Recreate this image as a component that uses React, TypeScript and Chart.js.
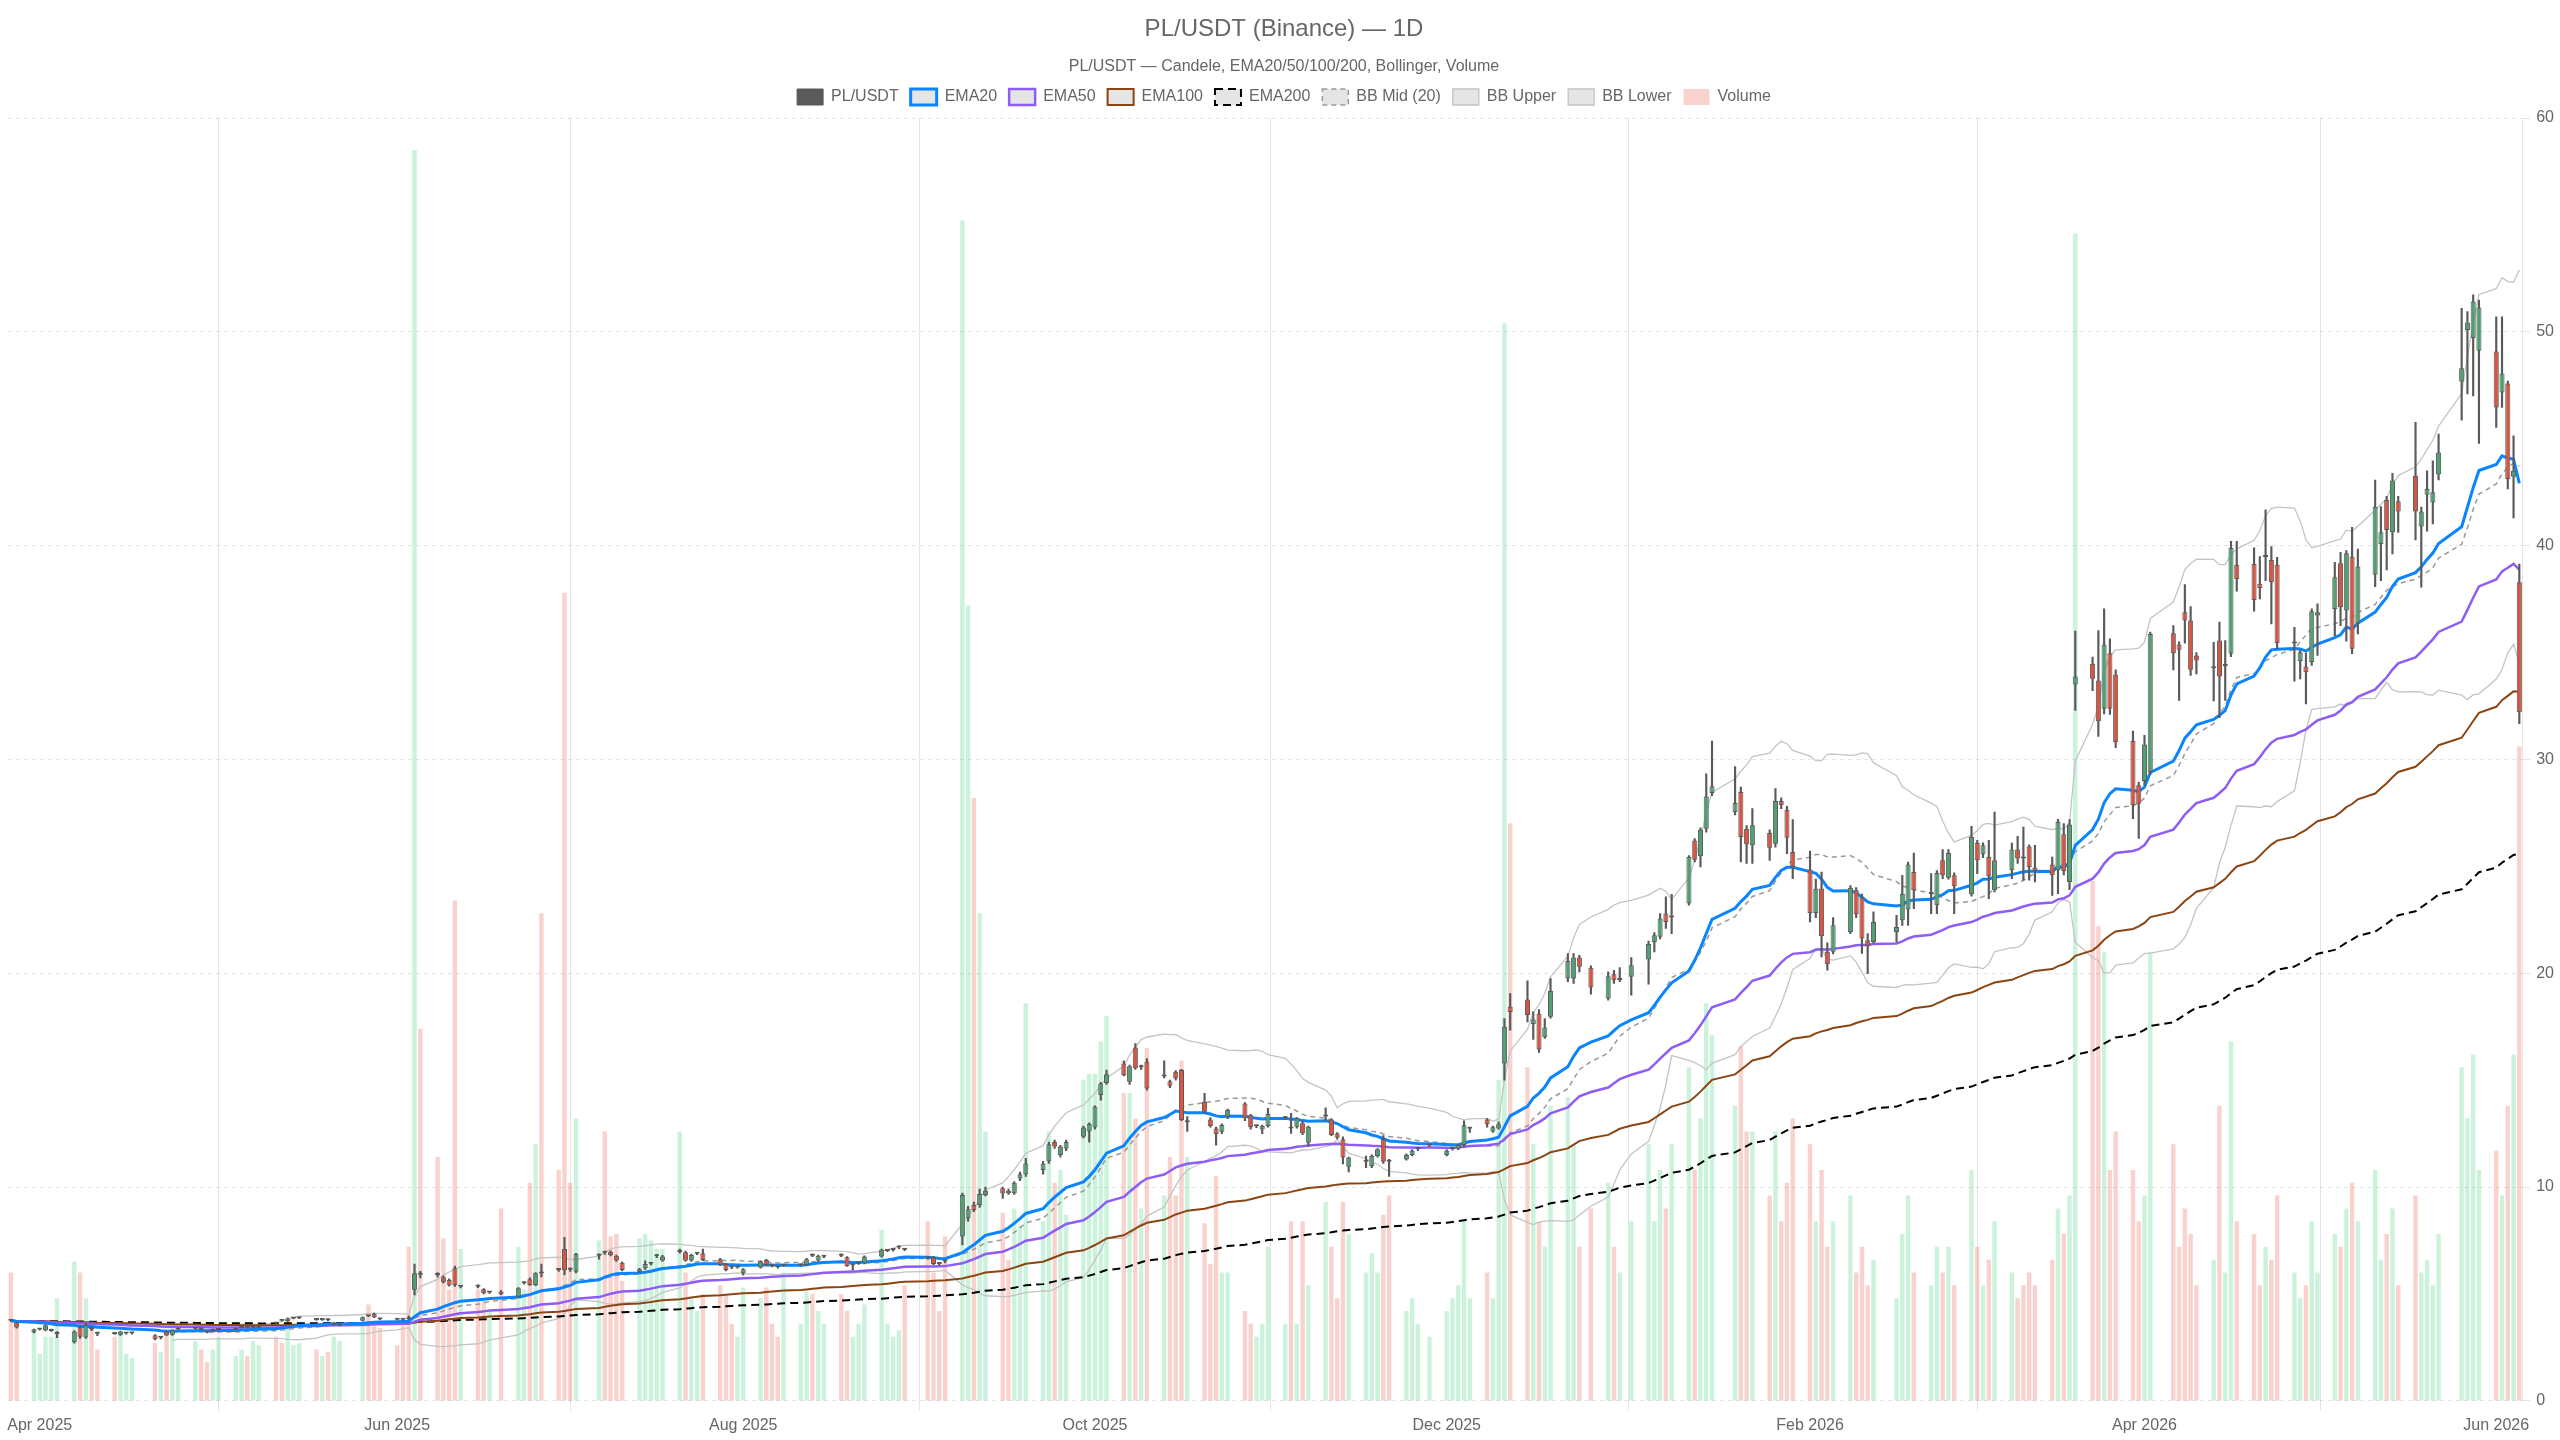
import React, { useEffect, useRef } from 'react';
import { Chart, registerables } from 'chart.js';

Chart.register(...registerables);

// Each row: [day of month, open, high, low, close, volume (M)]
type Row = [number, number, number, number, number, number];

const MAR_2025: Row[] = [
  [27, 3.77, 3.79, 3.72, 3.74, 6.0],
  [28, 3.66, 3.68, 3.40, 3.43, 3.6],
  [31, 3.21, 3.36, 3.18, 3.35, 3.3],
];

const APR_2025: Row[] = [
  [1, 3.33, 3.38, 3.30, 3.35, 2.2],
  [2, 3.30, 3.57, 3.27, 3.53, 3.0],
  [3, 3.27, 3.35, 3.25, 3.30, 3.0],
  [4, 3.12, 3.24, 2.95, 3.17, 4.8],
  [7, 2.74, 3.28, 2.70, 3.24, 6.5],
  [8, 3.44, 3.50, 2.92, 3.00, 6.0],
  [9, 2.96, 3.62, 2.92, 3.55, 4.8],
  [10, 3.36, 3.45, 3.28, 3.33, 3.6],
  [11, 3.17, 3.22, 3.05, 3.14, 2.4],
  [14, 3.16, 3.19, 3.10, 3.13, 3.0],
  [15, 3.09, 3.26, 3.06, 3.24, 3.2],
  [16, 3.15, 3.19, 3.12, 3.17, 2.2],
  [17, 3.16, 3.20, 3.12, 3.17, 2.0],
  [21, 3.07, 3.10, 2.85, 2.88, 2.7],
  [22, 2.95, 3.00, 2.90, 2.96, 2.3],
  [23, 3.24, 3.26, 3.03, 3.05, 3.0],
  [24, 3.09, 3.32, 3.06, 3.30, 3.3],
  [25, 3.34, 3.38, 3.31, 3.36, 2.0],
  [28, 3.37, 3.41, 3.34, 3.39, 2.8],
  [29, 3.39, 3.41, 3.30, 3.33, 2.4],
  [30, 3.26, 3.28, 3.18, 3.23, 1.8],
];

const MAY_2025: Row[] = [
  [1, 3.28, 3.32, 3.25, 3.30, 2.4],
  [2, 3.31, 3.35, 3.28, 3.33, 3.0],
  [5, 3.33, 3.37, 3.31, 3.35, 2.1],
  [6, 3.42, 3.46, 3.40, 3.44, 2.4],
  [7, 3.44, 3.47, 3.41, 3.43, 2.1],
  [8, 3.43, 3.47, 3.41, 3.45, 2.8],
  [9, 3.43, 3.48, 3.42, 3.44, 2.6],
  [12, 3.64, 3.66, 3.57, 3.61, 3.0],
  [13, 3.76, 3.78, 3.72, 3.74, 2.7],
  [14, 3.72, 3.88, 3.70, 3.85, 3.4],
  [15, 3.85, 3.88, 3.83, 3.86, 2.6],
  [16, 3.86, 3.90, 3.84, 3.88, 2.7],
  [19, 3.80, 3.83, 3.76, 3.78, 2.4],
  [20, 3.78, 3.82, 3.76, 3.80, 2.1],
  [21, 3.80, 3.84, 3.74, 3.77, 2.3],
  [22, 3.56, 3.66, 3.54, 3.64, 3.0],
  [23, 3.52, 3.60, 3.50, 3.58, 2.8],
  [27, 3.74, 3.93, 3.72, 3.91, 3.6],
  [28, 3.98, 3.99, 3.93, 3.95, 4.5],
  [29, 4.07, 4.10, 3.89, 3.91, 3.7],
  [30, 3.83, 3.86, 3.79, 3.81, 3.4],
];

const JUN_2025: Row[] = [
  [2, 3.80, 3.83, 3.77, 3.79, 2.6],
  [3, 3.81, 3.84, 3.77, 3.79, 3.6],
  [4, 3.85, 3.97, 3.80, 3.82, 7.2],
  [5, 5.19, 6.40, 4.95, 5.97, 58.5],
  [6, 5.91, 6.05, 5.75, 5.89, 17.4],
  [9, 5.90, 6.00, 5.80, 5.88, 11.4],
  [10, 5.78, 5.85, 5.50, 5.55, 7.6],
  [11, 5.65, 5.70, 5.36, 5.39, 5.2],
  [12, 6.20, 6.30, 5.35, 5.42, 23.4],
  [13, 5.33, 5.40, 5.28, 5.35, 7.1],
  [16, 5.36, 5.42, 5.28, 5.34, 5.2],
  [17, 5.22, 5.25, 5.00, 5.03, 4.8],
  [18, 5.07, 5.12, 5.02, 5.09, 4.2],
  [20, 5.11, 5.15, 4.96, 4.98, 9.0],
  [23, 4.87, 5.30, 4.82, 5.27, 7.2],
  [24, 5.50, 5.58, 5.46, 5.55, 5.2],
  [25, 5.69, 5.75, 5.40, 5.42, 10.2],
  [26, 5.42, 6.00, 5.38, 5.97, 12.0],
  [27, 5.97, 6.40, 5.80, 5.95, 22.8],
  [30, 6.14, 6.20, 6.05, 6.12, 10.8],
];

const JUL_2025: Row[] = [
  [1, 7.10, 7.65, 5.89, 6.12, 37.8],
  [2, 6.15, 6.22, 6.05, 6.13, 10.2],
  [3, 6.04, 6.90, 5.98, 6.87, 13.2],
  [7, 6.78, 6.88, 6.62, 6.80, 7.5],
  [8, 6.95, 7.00, 6.85, 6.93, 12.6],
  [9, 6.97, 7.02, 6.78, 6.81, 7.7],
  [10, 6.78, 6.82, 6.52, 6.56, 7.8],
  [11, 6.46, 6.50, 6.08, 6.12, 5.6],
  [14, 6.04, 6.20, 6.00, 6.15, 7.6],
  [15, 6.20, 6.55, 6.15, 6.40, 7.8],
  [16, 6.41, 6.48, 6.36, 6.43, 7.5],
  [17, 6.76, 6.85, 6.70, 6.78, 7.1],
  [18, 6.56, 6.80, 6.52, 6.75, 7.1],
  [21, 6.96, 7.10, 6.90, 6.98, 12.6],
  [22, 6.95, 7.00, 6.52, 6.56, 6.0],
  [23, 6.56, 6.86, 6.52, 6.82, 4.8],
  [24, 6.88, 6.95, 6.84, 6.90, 4.2],
  [25, 6.90, 7.10, 6.55, 6.59, 5.0],
  [28, 6.62, 6.66, 6.32, 6.35, 5.4],
  [29, 6.40, 6.43, 6.08, 6.12, 5.0],
  [30, 6.25, 6.30, 6.18, 6.24, 3.6],
  [31, 6.23, 6.30, 6.20, 6.25, 3.0],
];

const AUG_2025: Row[] = [
  [1, 5.97, 6.18, 5.88, 6.15, 5.3],
  [4, 6.24, 6.55, 6.20, 6.51, 4.8],
  [5, 6.59, 6.62, 6.32, 6.35, 5.3],
  [6, 6.32, 6.36, 6.26, 6.31, 3.6],
  [7, 6.26, 6.30, 6.20, 6.25, 3.0],
  [8, 6.33, 6.38, 6.30, 6.35, 6.0],
  [11, 6.34, 6.40, 6.30, 6.35, 3.6],
  [12, 6.35, 6.66, 6.33, 6.62, 5.1],
  [13, 6.80, 6.88, 6.74, 6.78, 5.0],
  [14, 6.56, 6.82, 6.52, 6.78, 4.2],
  [15, 6.74, 6.80, 6.70, 6.75, 3.6],
  [18, 6.80, 6.88, 6.74, 6.78, 5.0],
  [19, 6.72, 6.75, 6.28, 6.31, 4.2],
  [20, 6.34, 6.38, 6.12, 6.35, 3.0],
  [21, 6.42, 6.46, 6.38, 6.43, 3.6],
  [22, 6.43, 6.78, 6.40, 6.75, 4.5],
  [25, 6.75, 7.10, 6.72, 7.06, 8.0],
  [26, 7.01, 7.06, 6.97, 7.02, 3.6],
  [27, 7.05, 7.10, 7.00, 7.06, 3.0],
  [28, 7.17, 7.25, 7.12, 7.18, 3.3],
  [29, 7.08, 7.12, 7.02, 7.06, 5.4],
];

const SEP_2025: Row[] = [
  [2, 6.69, 6.74, 6.62, 6.67, 8.4],
  [3, 6.72, 6.76, 6.36, 6.40, 6.0],
  [4, 6.41, 6.45, 6.36, 6.40, 4.2],
  [5, 6.52, 6.56, 6.45, 6.51, 7.7],
  [8, 7.68, 9.72, 7.29, 9.63, 55.2],
  [9, 8.54, 9.10, 8.40, 8.96, 37.2],
  [10, 9.16, 9.30, 8.85, 8.93, 28.2],
  [11, 9.16, 9.90, 9.05, 9.67, 22.8],
  [12, 9.63, 10.00, 9.58, 9.82, 12.6],
  [15, 9.94, 10.00, 9.47, 9.70, 8.8],
  [16, 9.83, 9.90, 9.65, 9.71, 6.6],
  [17, 9.71, 10.25, 9.65, 10.20, 9.0],
  [18, 10.40, 10.70, 10.30, 10.60, 8.2],
  [19, 10.60, 11.34, 10.50, 11.10, 18.6],
  [22, 10.80, 11.20, 10.60, 11.10, 8.4],
  [23, 11.20, 12.10, 11.10, 12.00, 12.6],
  [24, 12.10, 12.20, 11.80, 11.90, 10.2],
  [25, 11.50, 11.95, 11.40, 11.90, 10.8],
  [26, 11.80, 12.20, 11.70, 12.10, 8.7],
  [29, 12.35, 12.85, 12.30, 12.78, 15.0],
  [30, 12.60, 13.00, 12.10, 12.95, 15.3],
];

const OCT_2025: Row[] = [
  [1, 12.78, 13.80, 12.70, 13.76, 15.3],
  [2, 14.30, 14.90, 14.06, 14.84, 16.8],
  [3, 14.87, 15.47, 14.80, 15.27, 18.0],
  [6, 15.78, 15.90, 15.20, 15.23, 14.4],
  [7, 14.92, 15.70, 14.80, 15.65, 14.4],
  [8, 16.53, 16.71, 15.50, 15.55, 13.2],
  [9, 15.60, 15.70, 15.50, 15.62, 9.0],
  [10, 15.86, 16.01, 14.53, 14.61, 16.5],
  [13, 15.17, 15.90, 15.10, 15.20, 9.6],
  [14, 14.95, 15.00, 14.65, 14.73, 11.4],
  [15, 15.39, 15.45, 15.00, 15.08, 9.6],
  [16, 15.47, 15.50, 13.10, 13.13, 15.9],
  [17, 13.03, 13.29, 12.60, 13.07, 11.4],
  [20, 13.99, 14.38, 13.45, 13.52, 8.3],
  [21, 13.16, 13.25, 12.80, 12.85, 6.4],
  [22, 12.74, 12.80, 11.96, 12.48, 10.5],
  [23, 12.58, 12.95, 12.50, 12.90, 6.0],
  [24, 13.29, 13.65, 13.20, 13.60, 6.0],
  [27, 13.91, 13.95, 13.10, 13.21, 4.2],
  [28, 13.36, 13.40, 12.70, 12.79, 3.6],
  [29, 12.84, 12.90, 12.78, 12.85, 3.0],
  [30, 12.69, 12.90, 12.50, 12.85, 3.6],
  [31, 12.85, 13.68, 12.80, 13.41, 7.2],
];

const NOV_2025: Row[] = [
  [3, 13.22, 13.30, 13.15, 13.25, 3.6],
  [4, 12.76, 13.44, 12.51, 12.74, 8.4],
  [5, 12.82, 13.25, 12.75, 13.21, 3.6],
  [6, 12.98, 13.10, 12.45, 12.51, 8.4],
  [7, 12.07, 12.85, 11.90, 12.82, 5.4],
  [10, 13.30, 13.70, 13.10, 13.32, 9.3],
  [11, 13.16, 13.20, 12.40, 12.43, 7.2],
  [12, 12.50, 12.55, 12.25, 12.30, 4.8],
  [13, 12.23, 12.35, 11.08, 11.38, 9.3],
  [14, 10.95, 11.40, 10.70, 11.38, 7.8],
  [17, 11.18, 11.45, 10.90, 11.20, 6.0],
  [18, 10.98, 11.50, 10.90, 11.45, 6.9],
  [19, 11.45, 11.80, 11.40, 11.76, 6.0],
  [20, 12.23, 12.40, 11.10, 11.18, 8.7],
  [21, 11.22, 11.30, 10.49, 11.18, 9.6],
  [24, 11.29, 11.55, 11.25, 11.50, 4.2],
  [25, 11.50, 11.75, 11.45, 11.70, 4.8],
  [26, 11.78, 11.85, 11.70, 11.80, 3.6],
  [28, 11.94, 12.00, 11.90, 11.96, 3.0],
];

const DEC_2025: Row[] = [
  [1, 11.50, 11.75, 11.45, 11.70, 4.2],
  [2, 11.78, 11.85, 11.72, 11.80, 4.8],
  [3, 11.80, 12.00, 11.75, 11.96, 5.4],
  [4, 11.96, 13.10, 11.88, 12.89, 8.4],
  [5, 12.72, 12.80, 12.55, 12.74, 4.8],
  [8, 13.16, 13.20, 12.80, 12.94, 6.0],
  [9, 12.60, 12.85, 12.55, 12.80, 4.8],
  [10, 12.74, 13.05, 12.70, 12.94, 15.0],
  [11, 15.78, 17.88, 15.00, 17.49, 50.4],
  [12, 18.43, 19.05, 17.34, 18.19, 27.0],
  [15, 18.77, 19.64, 17.72, 18.04, 15.6],
  [16, 17.62, 18.19, 16.90, 17.84, 12.0],
  [17, 18.12, 18.30, 16.30, 16.43, 8.4],
  [18, 17.00, 17.88, 16.95, 17.46, 7.2],
  [19, 17.96, 19.75, 17.90, 19.17, 13.8],
  [22, 19.75, 20.92, 19.60, 20.57, 14.2],
  [23, 19.75, 20.92, 19.52, 20.73, 12.0],
  [24, 20.73, 20.84, 20.06, 20.30, 7.2],
  [26, 20.26, 20.35, 19.02, 19.33, 9.0],
  [29, 18.82, 20.06, 18.74, 19.86, 10.2],
  [30, 19.95, 20.14, 19.52, 19.67, 7.2],
  [31, 19.68, 20.26, 19.60, 19.72, 6.0],
];

const JAN_2026: Row[] = [
  [2, 19.83, 20.73, 18.97, 20.37, 8.4],
  [5, 20.64, 21.50, 19.49, 21.36, 12.0],
  [6, 21.46, 21.90, 21.00, 21.78, 8.4],
  [7, 21.70, 22.79, 21.60, 22.56, 10.8],
  [8, 22.79, 23.57, 22.09, 22.40, 9.0],
  [9, 22.60, 23.69, 21.85, 22.66, 12.0],
  [12, 23.26, 25.50, 23.18, 25.43, 15.6],
  [13, 26.21, 26.30, 25.20, 25.31, 10.8],
  [14, 25.47, 26.80, 24.97, 26.71, 13.2],
  [15, 26.76, 29.33, 26.60, 28.27, 18.6],
  [16, 28.43, 30.86, 28.30, 28.74, 17.1],
  [20, 27.54, 29.67, 27.40, 27.96, 13.8],
  [21, 28.47, 28.70, 25.20, 26.37, 16.6],
  [22, 26.76, 26.90, 25.13, 26.03, 12.6],
  [23, 25.98, 27.70, 25.13, 26.92, 12.6],
  [26, 26.56, 26.70, 25.28, 25.87, 9.6],
  [27, 26.06, 28.63, 25.90, 28.05, 12.6],
  [28, 28.05, 28.20, 27.70, 27.85, 8.4],
  [29, 27.65, 27.80, 25.59, 26.34, 10.2],
  [30, 25.67, 27.18, 24.42, 24.97, 13.2],
];

const FEB_2026: Row[] = [
  [2, 24.85, 25.71, 22.40, 22.82, 12.0],
  [3, 22.82, 24.40, 22.60, 23.95, 8.4],
  [4, 23.96, 24.73, 20.76, 21.73, 10.8],
  [5, 21.00, 21.42, 20.14, 20.42, 7.2],
  [6, 21.00, 22.60, 20.90, 22.24, 8.4],
  [9, 21.93, 24.10, 21.85, 24.00, 9.6],
  [10, 23.88, 24.00, 22.60, 22.76, 6.0],
  [11, 23.54, 23.70, 20.92, 21.62, 7.2],
  [12, 21.54, 21.85, 19.98, 21.26, 5.4],
  [13, 21.46, 22.87, 21.40, 22.40, 6.6],
  [17, 21.93, 22.71, 21.46, 22.16, 4.8],
  [18, 22.48, 24.58, 22.24, 23.72, 7.8],
  [19, 22.98, 25.20, 22.24, 25.09, 9.6],
  [20, 24.73, 25.62, 23.02, 23.88, 6.0],
  [23, 23.70, 24.66, 22.79, 23.74, 5.4],
  [24, 23.18, 24.80, 22.79, 24.69, 7.2],
  [25, 25.28, 25.78, 24.42, 24.58, 6.0],
  [26, 24.47, 25.78, 24.40, 25.62, 7.2],
  [27, 24.58, 24.70, 22.79, 24.07, 5.4],
];

const MAR_2026: Row[] = [
  [2, 23.69, 26.87, 23.60, 26.37, 10.8],
  [3, 26.09, 26.21, 24.66, 25.28, 7.2],
  [4, 25.56, 26.10, 25.40, 25.98, 5.4],
  [5, 25.43, 26.21, 23.49, 24.53, 6.6],
  [6, 23.88, 27.54, 23.80, 25.28, 8.4],
  [9, 24.81, 26.09, 24.42, 25.78, 6.0],
  [10, 25.78, 26.40, 25.13, 25.36, 4.8],
  [11, 25.38, 26.84, 24.35, 25.36, 5.4],
  [12, 25.93, 26.00, 24.35, 24.97, 6.0],
  [13, 24.94, 25.98, 24.27, 24.78, 5.4],
  [16, 25.09, 25.43, 23.64, 24.58, 6.6],
  [17, 24.81, 27.20, 23.72, 27.07, 9.0],
  [18, 26.50, 27.00, 24.60, 24.78, 7.8],
  [19, 24.27, 27.18, 23.91, 26.96, 9.6],
  [20, 33.50, 36.00, 32.29, 33.88, 54.6],
  [23, 34.47, 34.78, 33.22, 33.77, 24.3],
  [24, 33.69, 36.03, 31.07, 31.79, 22.2],
  [25, 32.37, 37.04, 32.13, 35.37, 21.0],
  [26, 34.97, 35.64, 32.10, 32.37, 10.8],
  [27, 33.97, 34.19, 30.55, 30.81, 12.6],
  [30, 30.86, 31.32, 27.23, 27.85, 10.8],
  [31, 28.79, 28.94, 26.30, 27.93, 8.4],
];

const APR_2026: Row[] = [
  [1, 28.99, 31.12, 28.79, 30.70, 9.6],
  [2, 29.41, 35.95, 29.30, 35.87, 21.0],
  [6, 35.90, 36.26, 34.19, 34.97, 12.0],
  [7, 35.37, 35.50, 32.76, 35.13, 7.2],
  [8, 36.88, 38.18, 35.44, 36.50, 9.0],
  [9, 36.50, 37.15, 33.93, 34.19, 7.8],
  [10, 34.86, 35.00, 34.00, 34.63, 5.4],
  [13, 34.26, 35.48, 32.73, 34.30, 6.6],
  [14, 35.56, 36.42, 31.95, 33.88, 13.8],
  [15, 34.37, 35.56, 32.76, 34.40, 6.0],
  [16, 34.94, 40.20, 34.80, 39.89, 16.8],
  [17, 39.11, 40.20, 37.87, 38.44, 8.4],
  [20, 39.14, 39.89, 36.93, 37.46, 7.8],
  [21, 38.21, 39.49, 37.51, 38.02, 5.4],
  [22, 39.47, 41.67, 38.36, 39.51, 7.2],
  [23, 39.33, 39.95, 36.34, 38.29, 6.6],
  [24, 39.11, 39.45, 35.17, 35.44, 9.6],
  [27, 35.42, 36.18, 33.66, 35.46, 6.0],
  [28, 34.60, 35.10, 33.77, 35.01, 4.8],
  [29, 34.35, 34.97, 32.60, 34.08, 5.4],
  [30, 34.55, 37.04, 34.40, 36.93, 8.4],
];

const MAY_2026: Row[] = [
  [1, 36.73, 37.28, 34.86, 36.88, 6.0],
  [4, 37.04, 39.22, 35.79, 38.52, 7.8],
  [5, 39.17, 39.69, 36.26, 37.12, 7.2],
  [6, 36.96, 39.77, 35.53, 39.64, 9.0],
  [7, 39.49, 40.86, 34.94, 35.17, 10.2],
  [8, 36.37, 39.84, 35.87, 39.02, 8.4],
  [11, 38.64, 43.07, 38.08, 41.82, 10.8],
  [12, 40.08, 41.82, 38.36, 40.62, 6.6],
  [13, 42.13, 42.30, 38.86, 40.73, 7.8],
  [14, 40.62, 43.38, 39.61, 43.04, 9.0],
  [15, 42.07, 42.30, 40.62, 41.60, 5.4],
  [18, 43.27, 45.76, 40.27, 41.60, 9.6],
  [19, 40.89, 41.80, 38.05, 41.60, 6.0],
  [20, 42.38, 43.50, 40.67, 42.65, 6.6],
  [21, 42.02, 43.97, 41.01, 42.49, 5.4],
  [22, 43.32, 45.22, 43.07, 44.36, 7.8],
  [26, 47.68, 51.10, 45.87, 48.30, 15.6],
  [27, 50.08, 50.95, 47.10, 50.44, 13.2],
  [28, 49.71, 51.73, 47.00, 51.42, 16.2],
  [29, 49.11, 51.48, 44.78, 51.14, 10.8],
];

const JUN_2026: Row[] = [
  [1, 49.08, 50.70, 45.53, 46.46, 11.7],
  [2, 47.16, 50.70, 46.46, 48.05, 9.6],
  [3, 47.58, 47.70, 42.65, 43.12, 13.8],
  [4, 43.22, 45.14, 41.29, 43.50, 16.2],
  [5, 38.29, 39.14, 31.67, 32.21, 30.6],
];

const MONTHS: Array<[number, number, Row[]]> = [
  [2025, 3, MAR_2025], [2025, 4, APR_2025], [2025, 5, MAY_2025], [2025, 6, JUN_2025],
  [2025, 7, JUL_2025], [2025, 8, AUG_2025], [2025, 9, SEP_2025], [2025, 10, OCT_2025],
  [2025, 11, NOV_2025], [2025, 12, DEC_2025], [2026, 1, JAN_2026], [2026, 2, FEB_2026],
  [2026, 3, MAR_2026], [2026, 4, APR_2026], [2026, 5, MAY_2026], [2026, 6, JUN_2026],
];

// x ticks sit on the first trading day of these months
const TICK_MONTHS: Array<[number, number]> = [
  [2025, 4], [2025, 6], [2025, 8], [2025, 10], [2025, 12], [2026, 2], [2026, 4], [2026, 6],
];
const TICK_LABELS = ['Apr 2025', 'Jun 2025', 'Aug 2025', 'Oct 2025', 'Dec 2025', 'Feb 2026', 'Apr 2026', 'Jun 2026'];

const TITLE = 'PL/USDT (Binance) — 1D';
const SUBTITLE = 'PL/USDT — Candele, EMA20/50/100/200, Bollinger, Volume';
const PRICE_MIN = 0;
const PRICE_MAX = 60;
const PRICE_STEP = 10;
const VOLUME_AXIS_MAX = 60;

// colours
const UP = 'rgba(80, 160, 115, 1)';
const DOWN = 'rgba(215, 85, 65, 1)';
const CANDLE_EDGE = 'rgba(90, 90, 90, 1)';
const VOL_UP = 'rgba(46, 204, 113, 0.25)';
const VOL_DOWN = 'rgba(231, 76, 60, 0.25)';

const BASE = Date.UTC(2025, 3, 1);
const DAY_MS = 86400000;
const dayIndex = (y: number, m: number, d: number) => Math.round((Date.UTC(y, m - 1, d) - BASE) / DAY_MS);

function ema(values: number[], n: number): number[] {
  const k = 2 / (n + 1);
  const out: number[] = [];
  values.forEach((v, i) => out.push(i === 0 ? v : v * k + out[i - 1] * (1 - k)));
  return out;
}

function bollinger(values: number[], n: number, mult: number) {
  const mid: (number | null)[] = [];
  const up: (number | null)[] = [];
  const lo: (number | null)[] = [];
  for (let i = 0; i < values.length; i++) {
    if (i < n - 1) { mid.push(null); up.push(null); lo.push(null); continue; }
    const w = values.slice(i - n + 1, i + 1);
    const mean = w.reduce((a, b) => a + b, 0) / n;
    const sd = Math.sqrt(w.reduce((a, b) => a + (b - mean) * (b - mean), 0) / (n - 1));
    mid.push(mean); up.push(mean + mult * sd); lo.push(mean - mult * sd);
  }
  return { mid, up, lo };
}

export default function App() {
  const ref = useRef<HTMLCanvasElement>(null);

  useEffect(() => {
    const candles = MONTHS.flatMap(([y, m, rows]) =>
      rows.map((r) => ({ y, m, x: dayIndex(y, m, r[0]), o: r[1], h: r[2], l: r[3], c: r[4], v: r[5] }))
    );
    const xs = candles.map((c) => c.x);
    const closes = candles.map((c) => c.c);
    const isUp = candles.map((c) => c.c >= c.o);
    const e20 = ema(closes, 20);
    const e50 = ema(closes, 50);
    const e100 = ema(closes, 100);
    const e200 = ema(closes, 200);
    const bb = bollinger(closes, 20, 2);
    const line = (vals: (number | null)[]) =>
      vals.map((v, i) => ({ x: xs[i], y: v })).filter((p) => p.y !== null);

    const tickValues = TICK_MONTHS.map(([ty, tm]) => {
      const first = candles.find((c) => c.y === ty && c.m === tm);
      return first ? first.x : dayIndex(ty, tm, 1);
    });

    const legendSpacer = {
      id: 'legendSpacer',
      beforeLayout(chart: any) {
        const lg = chart.legend;
        if (lg && !lg.__patched) {
          const orig = lg.fit;
          lg.fit = function () { orig.call(this); this.height += 3; };
          lg.__patched = true;
        }
      },
    };

    const chart = new Chart(ref.current as HTMLCanvasElement, {
      type: 'bar',
      data: {
        datasets: [
          {
            type: 'bar', label: 'PL/USDT', order: 0, yAxisID: 'y', grouped: false,
            data: candles.map((c) => ({ x: c.x, y: [c.o, c.c] })) as any,
            backgroundColor: isUp.map((u) => (u ? UP : DOWN)),
            borderColor: CANDLE_EDGE, borderWidth: 1, borderSkipped: false,
            barPercentage: 0.88, categoryPercentage: 1, minBarLength: 2,
          },
          {
            type: 'bar', label: 'wick', order: 0.5, yAxisID: 'y', grouped: false,
            data: candles.map((c) => ({ x: c.x, y: [c.l, c.h] })) as any,
            backgroundColor: CANDLE_EDGE, borderWidth: 0, barThickness: 1.5,
          },
          {
            type: 'line', label: 'EMA20', order: 1, yAxisID: 'y', data: line(e20) as any,
            borderColor: '#0a84ff', borderWidth: 3, pointRadius: 0, tension: 0,
          },
          {
            type: 'line', label: 'EMA50', order: 2, yAxisID: 'y', data: line(e50) as any,
            borderColor: '#8e5cf7', borderWidth: 2.5, pointRadius: 0, tension: 0,
          },
          {
            type: 'line', label: 'EMA100', order: 3, yAxisID: 'y', data: line(e100) as any,
            borderColor: '#8b4513', borderWidth: 2, pointRadius: 0, tension: 0,
          },
          {
            type: 'line', label: 'EMA200', order: 4, yAxisID: 'y', data: line(e200) as any,
            borderColor: '#000000', borderWidth: 2, borderDash: [8, 5], pointRadius: 0, tension: 0,
          },
          {
            type: 'line', label: 'BB Mid (20)', order: 5, yAxisID: 'y', data: line(bb.mid) as any,
            borderColor: '#999999', borderWidth: 1.5, borderDash: [5, 4], pointRadius: 0, tension: 0,
          },
          {
            type: 'line', label: 'BB Upper', order: 6, yAxisID: 'y', data: line(bb.up) as any,
            borderColor: '#c4c4c4', borderWidth: 1.3, pointRadius: 0, tension: 0,
          },
          {
            type: 'line', label: 'BB Lower', order: 7, yAxisID: 'y', data: line(bb.lo) as any,
            borderColor: '#c4c4c4', borderWidth: 1.3, pointRadius: 0, tension: 0,
          },
          {
            type: 'bar', label: 'Volume', order: 8, yAxisID: 'yVol', grouped: false,
            data: candles.map((c) => ({ x: c.x, y: c.v })) as any,
            backgroundColor: isUp.map((u) => (u ? VOL_UP : VOL_DOWN)),
            borderWidth: 0, barPercentage: 0.76, categoryPercentage: 1,
          },
        ] as any,
      },
      options: {
        animation: false,
        responsive: true,
        maintainAspectRatio: false,
        events: [],
        layout: { padding: { left: 8, right: 0, top: 0, bottom: 0 } },
        plugins: {
          title: {
            display: true, text: TITLE, color: '#666',
            font: { size: 24, weight: 'normal' }, padding: { top: 15, bottom: 8 },
          },
          subtitle: {
            display: true, text: SUBTITLE, color: '#666',
            font: { size: 16, weight: 'normal' }, padding: { top: 5, bottom: 1 },
          },
          legend: {
            display: true,
            labels: {
              boxWidth: 26, boxHeight: 16, padding: 12, color: '#666', font: { size: 16 },
              generateLabels: (ch: any) => {
                const items = (Chart.defaults.plugins.legend.labels as any).generateLabels(ch);
                return items
                  .filter((it: any) => it.datasetIndex !== 1)
                  .map((it: any) => {
                    if (it.text === 'PL/USDT') { it.fillStyle = CANDLE_EDGE; it.strokeStyle = CANDLE_EDGE; it.lineWidth = 1; }
                    if (it.text === 'Volume') { it.fillStyle = VOL_DOWN; it.strokeStyle = VOL_DOWN; it.lineWidth = 0; }
                    return it;
                  });
              },
            },
          },
          tooltip: { enabled: false },
        },
        scales: {
          x: {
            type: 'linear',
            min: xs[0] - 0.5,
            max: xs[xs.length - 1] + 0.5,
            offset: false,
            grid: { offset: true, color: 'rgba(0,0,0,0.1)', tickLength: 10 },
            border: { display: false },
            afterBuildTicks: (scale: any) => { scale.ticks = tickValues.map((v) => ({ value: v })); },
            ticks: {
              autoSkip: false, maxRotation: 0, padding: 5, color: '#666', font: { size: 16 },
              callback: (_v: any, i: number) => TICK_LABELS[i],
            },
          },
          y: {
            type: 'linear', position: 'right', min: PRICE_MIN, max: PRICE_MAX,
            grid: { color: 'rgba(0,0,0,0.1)', tickLength: 8 },
            border: { display: true, color: 'rgba(0,0,0,0.1)', dash: [4, 4] },
            ticks: { stepSize: PRICE_STEP, padding: 6, color: '#666', font: { size: 16 } },
          },
          yVol: {
            type: 'linear', display: false, min: 0, max: VOLUME_AXIS_MAX,
            grid: { display: false },
          },
        },
      } as any,
      plugins: [legendSpacer],
    });
    return () => chart.destroy();
  }, []);

  return (
    <div style={{ position: 'fixed', left: 0, top: 0, width: '100vw', height: '100vh', background: '#fff' }}>
      <canvas ref={ref} />
    </div>
  );
}
